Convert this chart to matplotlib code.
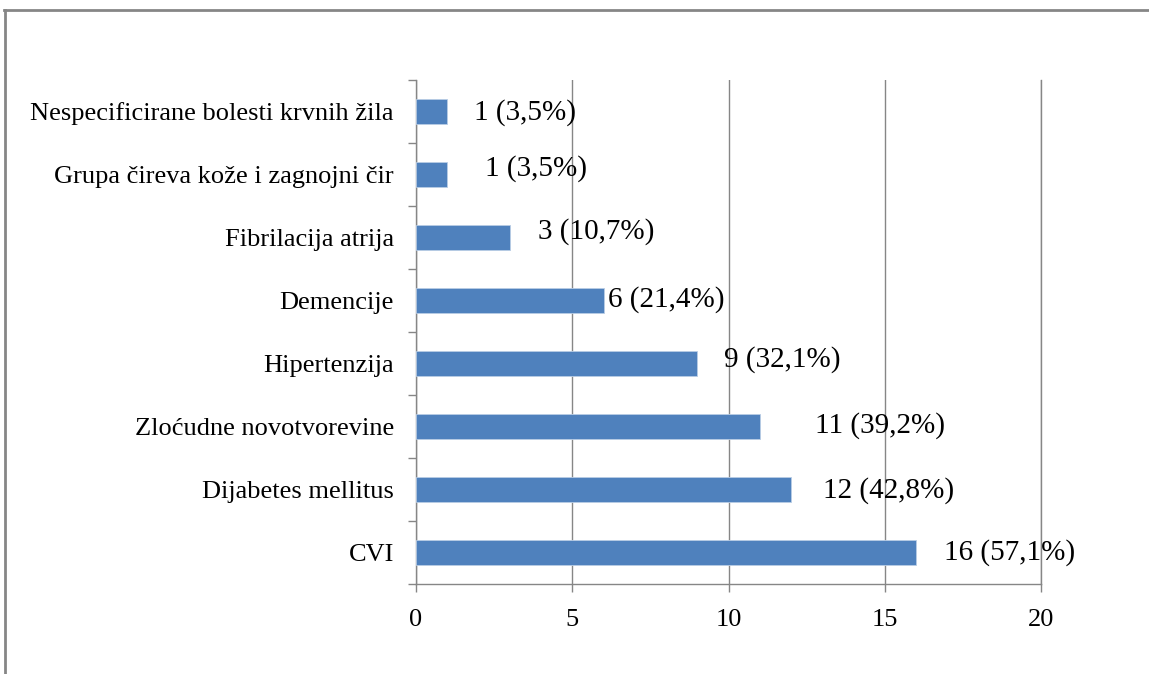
import numpy as np
import matplotlib.pyplot as plt
from matplotlib.lines import Line2D

plt.rcParams['font.family'] = ['Liberation Serif', 'DejaVu Serif']

# data (bottom to top)
categories = ['CVI', 'Dijabetes mellitus', 'Zloćudne novotvorevine', 'Hipertenzija',
              'Demencije', 'Fibrilacija atrija', 'Grupa čireva kože i zagnojni čir',
              'Nespecificirane bolesti krvnih žila']
counts = [16, 12, 11, 9, 6, 3, 1, 1]
labels = ['16 (57,1%)', '12 (42,8%)', '11 (39,2%)', '9 (32,1%)', '6 (21,4%)',
          '3 (10,7%)', '1 (3,5%)', '1 (3,5%)']

# label placement tweaks (points)
label_dx = [20, 23, 40, 19, 3, 20, 27, 19]
label_dy = [0, -1, 1, 3, 1, 4, 4, -1]

grey = '#868686'

fig = plt.figure(figsize=(11.49, 6.74), dpi=100)
ax = fig.add_axes([416 / 1149, 1 - 584 / 674, (1041 - 416) / 1149, (584 - 80) / 674])

y = np.arange(len(categories))
ax.barh(y, counts, height=0.4, color='#4F81BD', edgecolor='#B9CDE5', linewidth=0.6, zorder=3)

for i, (v, lab) in enumerate(zip(counts, labels)):
    ax.annotate(lab, (v, y[i]), xytext=(label_dx[i], label_dy[i]), textcoords='offset points',
                ha='left', va='center', fontsize=21, color='black', zorder=4)

ax.set_xlim(0, 20)
ax.set_ylim(-0.5, len(categories) - 0.5)
ax.set_xticks([0, 5, 10, 15, 20])
ax.set_yticks(y)
ax.set_yticklabels(categories)
ax.set_yticks(np.arange(-0.5, len(categories), 1), minor=True)
ax.tick_params(axis='y', which='major', length=0, pad=16, labelsize=19)
ax.tick_params(axis='y', which='minor', length=6, width=1, color=grey, direction='out')
ax.tick_params(axis='x', length=6, width=1, color=grey, direction='out', pad=12, labelsize=19)
ax.grid(axis='x', color=grey, linewidth=1, zorder=0)
ax.axvline(20, color=grey, linewidth=1, zorder=0, clip_on=False)

for side in ['top', 'right']:
    ax.spines[side].set_visible(False)
for side in ['left', 'bottom']:
    ax.spines[side].set_color(grey)
    ax.spines[side].set_linewidth(1)

# outer frame (cropped at right and bottom)
fig.add_artist(Line2D([4 / 1149, 1], [1 - 10 / 674, 1 - 10 / 674], color=grey, linewidth=2,
                      transform=fig.transFigure))
fig.add_artist(Line2D([5 / 1149, 5 / 1149], [0, 1 - 10 / 674], color=grey, linewidth=2,
                      transform=fig.transFigure))

fig.savefig('out.png', dpi=100)
